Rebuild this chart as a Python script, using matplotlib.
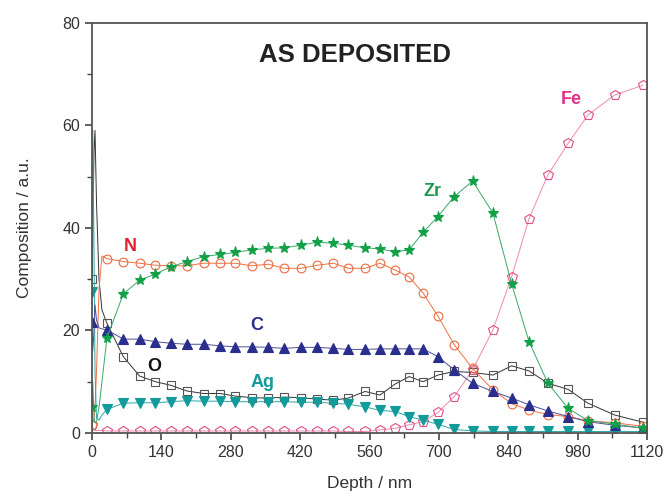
import matplotlib
matplotlib.use("Agg")
import matplotlib.pyplot as plt
from matplotlib.ticker import MultipleLocator

plt.rcParams['font.family'] = ['Liberation Sans', 'DejaVu Sans']

# Depth (nm): near-surface points, then the marker grid
depth = [0, 1.5, 4, 6, 9, 14, 20,
         30, 63, 96, 128, 159, 191, 225, 258, 289, 322, 356, 388, 421, 454, 487,
         517, 551, 581, 611, 640, 668, 698, 731, 768, 809, 847, 882, 920, 961,
         1001, 1055, 1112]

N = [1.5, 2, 3, 5, 12, 28, 34.5,
     34.0, 33.4, 33.1, 32.7, 32.6, 32.6, 33.1, 33.1, 33.1, 32.6, 32.9, 32.1, 32.1, 32.7, 33.1,
     32.1, 32.1, 33.1, 31.8, 30.4, 27.3, 22.8, 17.2, 12.6, 8.4, 5.7, 4.5, 3.6, 3.2,
     2.4, 2.0, 1.3]

Zr = [5, 10, 3, 2, 2.2, 5, 10,
      18.5, 27.1, 29.8, 31.0, 32.4, 33.4, 34.4, 34.8, 35.2, 35.7, 36.0, 36.1, 36.6, 37.2, 37.0,
      36.6, 36.1, 35.9, 35.3, 35.7, 39.1, 42.2, 46.1, 49.1, 42.9, 29.0, 17.8, 9.7, 4.8,
      2.4, 1.75, 0.9]

C = [21.6, 16, 20, 25, 22, 20.5, 20.3,
     20.1, 18.3, 18.3, 17.8, 17.5, 17.3, 17.3, 17.0, 16.8, 16.8, 16.7, 16.5, 16.7, 16.7, 16.5,
     16.3, 16.3, 16.4, 16.4, 16.4, 16.4, 14.9, 12.3, 9.7, 8.1, 6.8, 5.5, 4.3, 3.2,
     2.2, 1.5, 1.0]

O = [30, 40, 55, 59, 45, 30, 24,
     21.4, 14.9, 11.1, 10.0, 9.3, 8.2, 7.7, 7.7, 7.2, 6.9, 6.8, 7.0, 6.9, 6.6, 6.4,
     6.8, 8.1, 7.4, 9.5, 11.0, 10.0, 11.3, 12.0, 11.8, 11.3, 13.1, 12.1, 9.7, 8.5,
     5.8, 3.5, 2.1]

Ag = [27.5, 59, 35, 12, 3, 2.5, 3.5,
      4.6, 5.8, 5.9, 5.9, 6.1, 6.3, 6.2, 6.2, 6.1, 6.1, 6.1, 6.1, 6.0, 6.0, 5.8,
      5.6, 5.1, 4.4, 4.2, 3.2, 2.5, 1.7, 0.7, 0.4, 0.3, 0.3, 0.3, 0.3, 0.3,
      0.3, 0.3, 0.3]

Fe = [1.5, 1, 0.8, 0.5, 0.5, 0.5, 0.5,
      0.4, 0.4, 0.4, 0.4, 0.4, 0.4, 0.4, 0.4, 0.4, 0.4, 0.4, 0.4, 0.4, 0.4, 0.4,
      0.3, 0.3, 0.6, 0.9, 1.6, 2.2, 4.0, 7.1, 12.3, 20.1, 30.5, 41.8, 50.3, 56.5,
      62.0, 65.9, 67.8]

x_ticks = [0, 140, 280, 420, 560, 700, 840, 980, 1120]
y_ticks = [0, 20, 40, 60, 80]

fig = plt.figure(figsize=(6.67, 4.96), dpi=100)
ax = fig.add_axes([0.138, 0.127, 0.832, 0.8274])

marks = [0] + list(range(7, len(depth)))

series = [
    # data, line colour, marker, face, edge, size
    (Fe, "#ef8aa8", "p", "none", "#e0508a", 7.0),
    (O, "#333333", "s", "none", "#555555", 5.8),
    (N, "#f07040", "o", "none", "#ee6a40", 6.3),
    (Ag, "#2aa8a8", "v", "#139a9a", "#139a9a", 6.5),
    (C, "#4a4f9a", "^", "#2a2e8c", "#2a2e8c", 6.5),
    (Zr, "#3aa868", "*", "#12a048", "#12a048", 8),
]
for data, lc, m, fc, ec, ms in series:
    ax.plot(depth, data, color=lc, lw=0.7, marker=m, markevery=marks,
            markerfacecolor=fc, markeredgecolor=ec, markersize=ms,
            markeredgewidth=0.8)

ax.set_xlim(0, 1120)
ax.set_ylim(0, 80)
ax.set_xticks(x_ticks)
ax.set_yticks(y_ticks)
ax.xaxis.set_minor_locator(MultipleLocator(70))
ax.yaxis.set_minor_locator(MultipleLocator(10))
ax.tick_params(which="major", direction="out", length=5, width=1.2,
               colors="#444444", labelsize=11.5, labelcolor="#333333",
               top=False, right=False)
ax.tick_params(which="minor", direction="out", length=3.5, width=1.0,
               colors="#444444", top=False, right=False)
for s in ax.spines.values():
    s.set_color("#555555")
    s.set_linewidth(1.3)

ax.set_xlabel("Depth / nm", fontsize=12.5, color="#333333", labelpad=12)
ax.set_ylabel("Composition / a.u.", fontsize=12.5, color="#333333", labelpad=22)

ax.text(531, 73.7, "AS DEPOSITED", fontsize=18.5, fontweight="bold",
        color="#222222", ha="center", va="center")
ax.text(77, 36.3, "N", fontsize=13, fontweight="bold", color="#e02030",
        ha="center", va="center")
ax.text(688, 47, "Zr", fontsize=13, fontweight="bold", color="#1a9a50",
        ha="center", va="center")
ax.text(967, 65, "Fe", fontsize=13, fontweight="bold", color="#e0308a",
        ha="center", va="center")
ax.text(332, 20.9, "C", fontsize=13, fontweight="bold", color="#2a2e8c",
        ha="center", va="center")
ax.text(125, 12.9, "O", fontsize=13, fontweight="bold", color="#111111",
        ha="center", va="center")
ax.text(345, 9.8, "Ag", fontsize=13, fontweight="bold", color="#159a9a",
        ha="center", va="center")

fig.savefig("out.png", dpi=100)
